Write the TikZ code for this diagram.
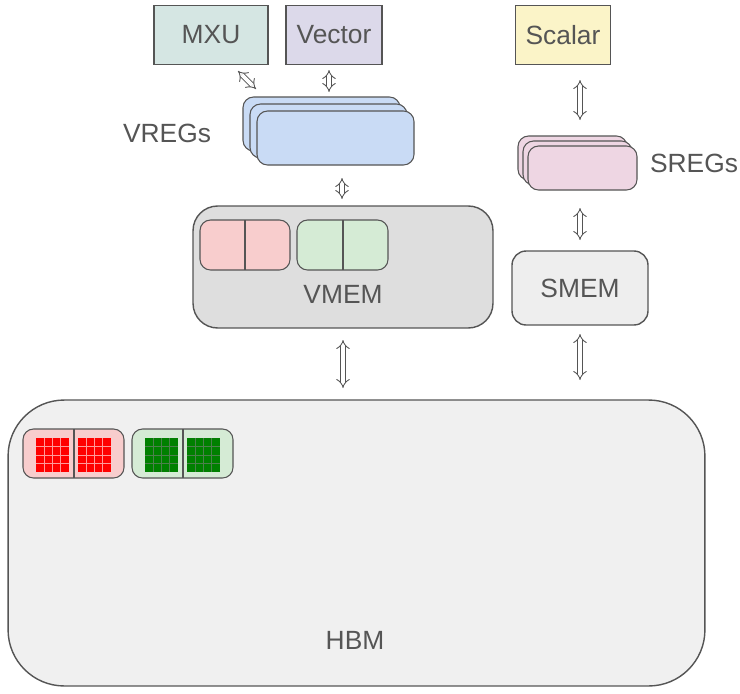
\documentclass[tikz,border=0pt]{standalone}
\usepackage{fontspec}
\setmainfont{Liberation Sans}
\usepackage{tikz}
\usetikzlibrary{arrows.meta,positioning}

\definecolor{txtgray}{HTML}{555555}
\definecolor{linegray}{HTML}{555555}
\definecolor{mxufill}{HTML}{D5E6E3}
\definecolor{vecfill}{HTML}{DCD9EA}
\definecolor{scafill}{HTML}{FBF4C8}
\definecolor{vregfill}{HTML}{C9DBF5}
\definecolor{sregfill}{HTML}{EED6E3}
\definecolor{vmemfill}{HTML}{DEDEDE}
\definecolor{smemfill}{HTML}{EEEEEE}
\definecolor{hbmfill}{HTML}{F0F0F0}
\definecolor{redfill}{HTML}{F8CDCD}
\definecolor{greenfill}{HTML}{D5EBD5}

\begin{document}
\begin{tikzpicture}[
    x=0.02cm, y=-0.02cm,
    font=\fontsize{15}{18}\selectfont,
    unit/.style={draw=linegray, line width=0.8pt, text=txtgray},
    reg/.style={draw=linegray, line width=0.6pt, rounded corners=6pt},
    mem/.style={draw=linegray, line width=0.8pt, text=txtgray},
    label/.style={text=txtgray},
    link/.style={double=white, draw=linegray, line width=0.5pt, double distance=2.2pt,
                 {Implies[]}-{Implies[]}}
]

\useasboundingbox[fill=white] (0,0) rectangle (740,693);

% Compute units
\node[unit, fill=mxufill, minimum width=2.28cm, minimum height=1.18cm] (mxu) at (211,35) {MXU};
\node[unit, fill=vecfill, minimum width=1.92cm, minimum height=1.18cm] (vector) at (334,35) {Vector};
\node[unit, fill=scafill, minimum width=1.9cm, minimum height=1.18cm] (scalar) at (563,35) {Scalar};

% Vector registers
\foreach \d in {0,7,14} {
    \draw[reg, fill=vregfill] (243+\d,97+\d) rectangle (400+\d,151+\d);
}
\coordinate (vregtop) at (329,70);
\coordinate (vregbot) at (342,178);
\node[label] (vregs) at (167,133) {VREGs};

% Scalar registers
\foreach \d in {0,5,10} {
    \draw[reg, fill=sregfill] (518+\d,136+\d) rectangle (627+\d,180+\d);
}
\coordinate (sregtop) at (580,120);
\coordinate (sregbot) at (580,208);
\node[label] (sregs) at (694,163) {SREGs};

% VMEM
\node[mem, fill=vmemfill, rounded corners=14pt, minimum width=6cm, minimum height=2.44cm] (vmem) at (343,267) {};
\node[label] (vmemlbl) at (343,294) {VMEM};
\draw[reg, fill=redfill] (200,220) rectangle (290,270);
\draw[linegray, line width=0.6pt] (245,220) -- (245,270);
\draw[reg, fill=greenfill] (297,220) rectangle (388,270);
\draw[linegray, line width=0.6pt] (343,220) -- (343,270);

% SMEM
\node[mem, fill=smemfill, rounded corners=8pt, minimum width=2.72cm, minimum height=1.48cm] (smem) at (580,288) {SMEM};

% HBM
\node[mem, fill=hbmfill, rounded corners=32pt, minimum width=13.94cm, minimum height=5.72cm] (hbm) at (356.5,543) {};
\node[label] (hbmlbl) at (355,640) {HBM};
\draw[reg, fill=redfill] (23,429) rectangle (124,478);
\draw[linegray, line width=0.6pt] (74,429) -- (74,478);
\draw[reg, fill=greenfill] (132,429) rectangle (233,478);
\draw[linegray, line width=0.6pt] (183,429) -- (183,478);
\foreach \gx/\col in {36/red, 78/red, 145/green!50!black, 187/green!50!black} {
    \fill[\col] (\gx,438) rectangle (\gx+33,472);
    \foreach \k in {1,2,3} {
        \draw[white!60!\col, line width=0.3pt] (\gx+\k*8.25,438) -- (\gx+\k*8.25,472);
        \draw[white!60!\col, line width=0.3pt] (\gx,438+\k*8.5) -- (\gx+33,438+\k*8.5);
    }
}

% Connectors
\draw[link] (238,71) -- (256,89);
\draw[link] (vregtop) -- (329,92);
\draw[link] (vregbot) -- (342,199);
\draw[link] (343,340) -- (343,388);
\draw[link] (580,80) -- (sregtop);
\draw[link] (sregbot) -- (580,240);
\draw[link] (580,334) -- (580,380);

\end{tikzpicture}
\end{document}
